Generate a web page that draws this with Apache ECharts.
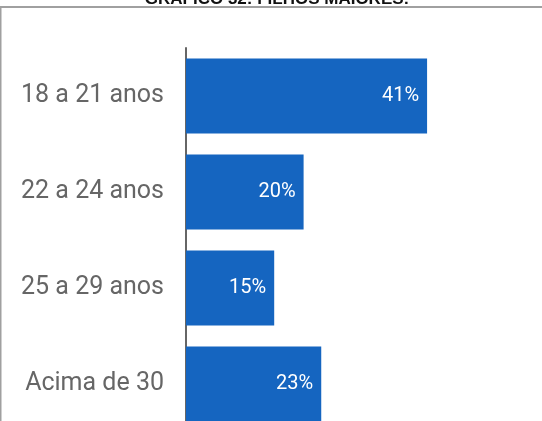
<!DOCTYPE html>
<html>
<head>
<meta charset="utf-8">
<script src="https://cdn.jsdelivr.net/npm/echarts@6/dist/echarts.min.js"></script>
<style>
  html, body { margin: 0; padding: 0; background: #fff; }
  #chart { width: 542px; height: 421px; }
</style>
</head>
<body>
<div id="chart"></div>
<script>
var categories = ['18 a 21 anos', '22 a 24 anos', '25 a 29 anos', 'Acima de 30'];
var values = [41, 20, 15, 23];

var myChart = echarts.init(document.getElementById('chart'), null, { renderer: 'canvas' });

var option = {
    animation: false,
    backgroundColor: '#fff',
    title: {
        text: 'GRÁFICO 32: FILHOS MAIORES:',
        left: 277,
        textAlign: 'center',
        top: -9,
        padding: 0,
        textStyle: {
            fontFamily: 'Liberation Sans',
            fontWeight: 'bold',
            fontSize: 17,
            color: '#111'
        }
    },
    graphic: [
        {
            type: 'rect',
            shape: { x: 0.5, y: 7, width: 700, height: 600 },
            style: { fill: 'none', stroke: '#a0a0a0', lineWidth: 2 },
            z: 0
        }
    ],
    grid: {
        left: 186,
        top: 48,
        width: 294,
        height: 384,
        outerBoundsMode: 'none'
    },
    xAxis: {
        type: 'value',
        min: 0,
        max: 50,
        show: false
    },
    yAxis: {
        type: 'category',
        inverse: true,
        data: categories,
        axisLine: { show: true, lineStyle: { color: '#666', width: 2 } },
        axisTick: { show: false },
        axisLabel: {
            margin: 22,
            fontFamily: 'Roboto',
            fontSize: 25,
            color: '#666'
        }
    },
    series: [
        {
            type: 'bar',
            data: values,
            barCategoryGap: '22%',
            itemStyle: { color: '#1565c0' },
            label: {
                show: true,
                position: 'insideRight',
                distance: 8,
                formatter: '{c}%',
                fontFamily: 'Roboto',
                fontSize: 20,
                color: '#fff'
            }
        }
    ]
};

option && myChart.setOption(option);
window.addEventListener('resize', function () {
    myChart.resize();
});
</script>
</body>
</html>
